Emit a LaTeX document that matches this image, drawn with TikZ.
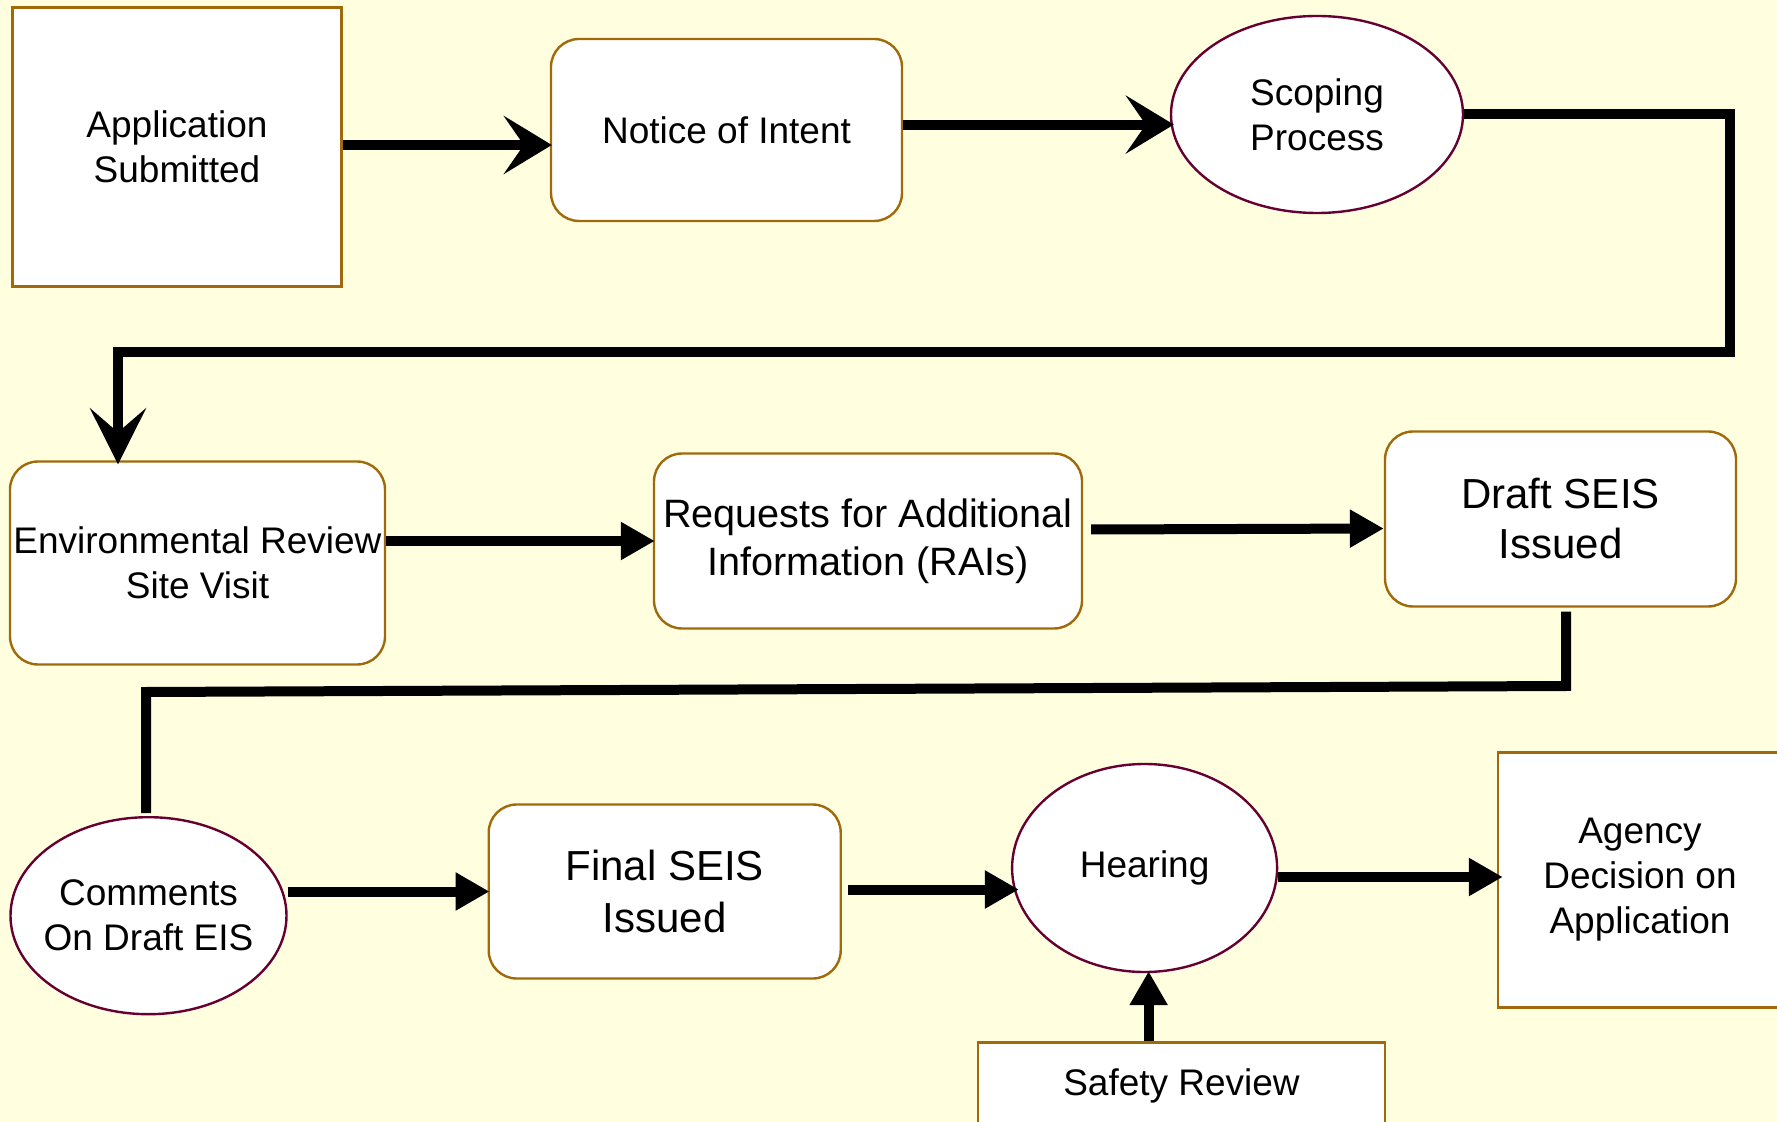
\documentclass[tikz,border=0pt]{standalone}
\usepackage{fontspec}
\setmainfont{Liberation Sans}
\usetikzlibrary{arrows.meta,shapes.geometric,calc}
\definecolor{bgc}{HTML}{FFFFDF}
\definecolor{boxc}{HTML}{A06A0A}
\definecolor{ellc}{HTML}{660033}
\begin{document}
\begin{tikzpicture}[x=0.5pt,y=-0.5pt,
  txt/.style={align=center,font=\fontsize{18.5}{22.5}\selectfont,inner sep=0pt},
  sqbox/.style={txt,draw=boxc,line width=1.2pt,fill=white,rectangle},
  rbox/.style={sqbox,rounded corners=14pt},
  oval/.style={txt,draw=ellc,line width=1.2pt,fill=white,ellipse},
  conn/.style={line width=5pt,black},
  stl/.style={conn,-{Stealth[length=24pt,width=29pt,inset=10pt]}},
  tri/.style={conn,-{Triangle[length=17pt,width=18pt]}}]
\useasboundingbox (0,0) rectangle (1777,1122);
\fill[bgc] (0,0) rectangle (1777,1122);
% nodes
\node[sqbox,minimum width=164.5pt,minimum height=139.5pt] (app) at (177,147) {Application\\Submitted};
\node[rbox,minimum width=175.5pt,minimum height=91pt] (noi) at (726.5,130) {Notice of Intent};
\node[oval,minimum width=146pt,minimum height=98.5pt] (scope) at (1317,114.5) {Scoping\\Process};
\node[rbox,minimum width=187.5pt,minimum height=101.5pt] (env) at (197.5,563) {Environmental Review\\Site Visit};
\node[rbox,minimum width=214pt,minimum height=87.5pt,font=\fontsize{19.8}{24}\selectfont] (rai) at (868,541) {Requests for Additional\\Information (RAIs)};
\node[rbox,minimum width=175.5pt,minimum height=87.5pt,font=\fontsize{21}{25}\selectfont] (draft) at (1560.5,519) {Draft SEIS\\Issued};
\node[oval,inner xsep=-6pt,minimum width=138pt,minimum height=98.5pt] (comm) at (148.5,915.7) {Comments\\On Draft EIS};
\node[rbox,minimum width=176pt,minimum height=87pt,font=\fontsize{21}{26}\selectfont] (final) at (664.7,891.5) {Final SEIS\\Issued};
\node[oval,minimum width=132.5pt,minimum height=104pt] (hear) at (1144.6,868) {Hearing};
\node[sqbox,minimum width=142pt,minimum height=127.5pt] (agency) at (1640,880) {Agency\\Decision on\\Application};
\node[sqbox,minimum width=203.5pt,minimum height=43.5pt] (safety) at (1181.5,1086) {Safety Review};
% connectors
\draw[stl] (app.east |- 0,145) -- ([xshift=1pt]noi.west |- 0,145);
\draw[stl] ([yshift=2.7pt]noi.east) -- ([xshift=2pt,yshift=2.7pt]noi.east -| scope.west);
\coordinate (c1) at (1730,352);
\coordinate (c2) at (118,352);
\draw[conn,-{Stealth[length=28pt,width=28pt,inset=12pt]}] (scope.east) -| (c1) -- (c2) -- ([yshift=-2pt]c2 |- env.north);
\draw[tri] (rai.west -| env.east) -- ([xshift=1pt]rai.west);
\draw[tri] ([xshift=4pt,yshift=5.75pt]rai.east) -- ([yshift=-4.75pt]draft.west);
\coordinate (d0) at ([yshift=-2pt]draft.south);
\coordinate (d1) at (1566,686);
\coordinate (d2) at (146,692);
\coordinate (d3) at (146,813);
\draw[conn] (d1 |- d0) -- (d1) -- (d2) -- (d3);
\draw[tri] (comm.east |- final.west) -- ([xshift=1pt]final.west);
\draw[tri] ([xshift=3pt,yshift=1pt]final.east) -- ([xshift=4pt,yshift=1pt]final.east -| hear.west);
\draw[tri] ([yshift=-4.5pt]hear.east) -- ([xshift=3pt,yshift=1.5pt]agency.west);
\draw[tri] ([xshift=2pt]hear.south |- safety.north) -- ([xshift=2pt,yshift=1pt]hear.south);
\end{tikzpicture}
\end{document}
